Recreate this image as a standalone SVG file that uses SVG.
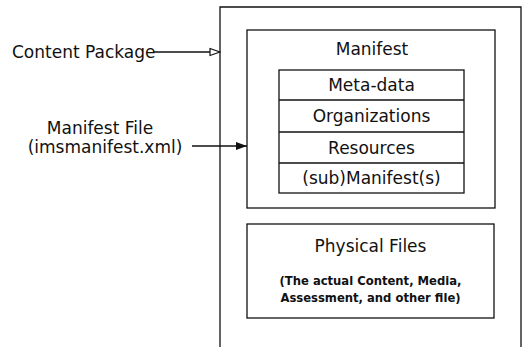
<svg xmlns="http://www.w3.org/2000/svg" width="524" height="347" viewBox="0 0 524 347">
<style>
text{font-family:"DejaVu Sans",Verdana,sans-serif;fill:#111;}
.box{fill:none;stroke:#111;stroke-width:1.3;}
.lbl{font-size:17px;}
.c{text-anchor:middle;}
.sm{font-size:11.6px;font-weight:bold;}
.ln{stroke:#111;stroke-width:1.3;fill:none;}
</style>
<defs>
<marker id="open" markerWidth="12" markerHeight="10" refX="11" refY="5" orient="auto" markerUnits="userSpaceOnUse">
<path d="M1,1.5 L11,5 L1,8.5 Z" fill="#fff" stroke="#111" stroke-width="1.2"/>
</marker>
<marker id="fill" markerWidth="12" markerHeight="10" refX="11" refY="5" orient="auto" markerUnits="userSpaceOnUse">
<path d="M0,1 L11,5 L0,9 Z" fill="#111"/>
</marker>
</defs>
<g id="content-package">
<path class="box" d="M220,347 L220,7 L521,7 L521,347"/>
</g>
<g id="manifest">
<rect class="box" x="247" y="30" width="248" height="178"/>
<text class="lbl c" x="372" y="55">Manifest</text>
</g>
<g id="manifest-list">
<rect class="box" x="279" y="70" width="185" height="123"/>
<line class="ln" x1="279" y1="100" x2="464" y2="100"/>
<line class="ln" x1="279" y1="132" x2="464" y2="132"/>
<line class="ln" x1="279" y1="163" x2="464" y2="163"/>
<text class="lbl c" x="371.5" y="91">Meta-data</text>
<text class="lbl c" x="371.5" y="122">Organizations</text>
<text class="lbl c" x="371.5" y="154">Resources</text>
<text class="lbl c" x="371.5" y="184">(sub)Manifest(s)</text>
</g>
<g id="physical-files">
<rect class="box" x="247" y="224" width="247" height="94"/>
<text class="lbl c" x="370.5" y="252">Physical Files</text>
<text class="sm c" x="370.5" y="285">(The actual Content, Media,</text>
<text class="sm c" x="370.5" y="302">Assessment, and other file)</text>
</g>
<g id="label-content-package">
<text class="lbl" x="12" y="58">Content Package</text>
</g>
<g id="label-manifest-file">
<text class="lbl c" x="100" y="134">Manifest File</text>
<text class="lbl c" x="105" y="153">(imsmanifest.xml)</text>
</g>
<g id="connectors">
<line class="ln" x1="153" y1="52" x2="220" y2="52" marker-end="url(#open)"/>
<line class="ln" x1="192" y1="146" x2="247" y2="146" marker-end="url(#fill)"/>
</g>
</svg>
